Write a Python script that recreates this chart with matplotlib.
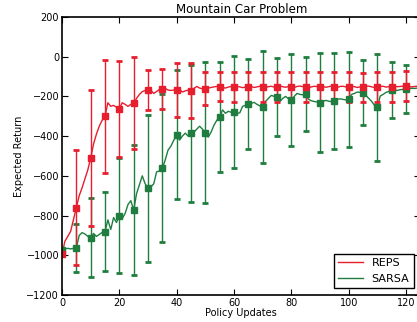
#!/usr/bin/env python3
import numpy as np
from matplotlib import pyplot as plt

# Globals
red = '#e61e2d'
green = '#1f7e3f'

# Policy updates, one value per update (0 .. 124)
updates = list(range(125))

reps_line = [
    -995, -930, -905, -880, -820, -760, -700, -660, -615, -570,   # 0-9
    -510, -440, -390, -350, -320, -300, -232, -250, -245, -255,   # 10-19
    -263, -232, -240, -250, -240, -235, -210, -190, -176, -170,   # 20-29
    -168, -170, -185, -175, -165, -163, -160, -168, -170, -168,   # 30-39
    -168, -165, -178, -172, -168, -171, -160, -150, -158, -162,   # 40-49
    -161, -158, -155, -152, -150, -151, -155, -158, -153, -150,   # 50-59
    -153, -150, -152, -156, -153, -152, -150, -155, -152, -149,   # 60-69
    -152, -155, -151, -149, -153, -152, -148, -151, -154, -150,   # 70-79
    -152, -155, -150, -148, -151, -152, -156, -152, -149, -151,   # 80-89
    -152, -150, -154, -151, -148, -152, -155, -150, -149, -152,   # 90-99
    -152, -149, -151, -155, -152, -154, -150, -148, -152, -155,   # 100-109
    -152, -150, -149, -153, -151, -152, -149, -151, -150, -148,   # 110-119
    -148, -150, -152, -150, -149,                                 # 120-124
]

sarsa_line = [
    -975, -968, -965, -968, -965, -962, -900, -886, -893, -905,   # 0-9
    -911, -890, -905, -895, -885, -881, -822, -870, -810, -835,   # 10-19
    -800, -815, -790, -745, -725, -772, -690, -645, -600, -640,   # 20-29
    -663, -655, -640, -580, -575, -562, -520, -470, -450, -420,   # 30-39
    -394, -420, -400, -385, -400, -386, -380, -365, -350, -365,   # 40-49
    -382, -405, -380, -345, -320, -305, -268, -285, -275, -280,   # 50-59
    -280, -285, -283, -250, -245, -240, -235, -230, -240, -248,   # 60-69
    -252, -225, -210, -195, -200, -203, -226, -210, -200, -212,   # 70-79
    -220, -200, -185, -190, -192, -188, -215, -222, -226, -228,   # 80-89
    -232, -225, -220, -224, -226, -223, -215, -212, -215, -218,   # 90-99
    -215, -190, -185, -178, -180, -181, -195, -210, -225, -245,   # 100-109
    -255, -198, -190, -180, -175, -168, -168, -170, -166, -165,   # 110-119
    -164, -162, -159, -160, -158,                                 # 120-124
]

# Error bars every 5 updates (0 .. 120)
bar_updates = list(range(0, 121, 5))
reps_err = [0, 288, 343, 285, 243, 231, 102, 99, 137, 138, 84, 72, 74,
            74, 74, 74, 74, 74, 74, 74, 74, 74, 74, 74, 74]
sarsa_err = [0, 121, 200, 200, 290, 327, 370, 372, 325, 344, 354, 276, 282,
             227, 282, 195, 232, 185, 250, 240, 240, 163, 269, 140, 121]


def main():
    plt.close('all')
    fig = plt.figure(figsize=(4.17, 3.22), dpi=100)
    ax = fig.add_axes([0.1487, 0.0839, 0.8594, 0.8634])

    # markers sit on the line every 5 updates
    reps_mean = [reps_line[u] for u in bar_updates]
    sarsa_mean = [sarsa_line[u] for u in bar_updates]

    ax.plot(updates, sarsa_line, color=green, lw=1.0, label='SARSA')
    ax.errorbar(bar_updates, sarsa_mean, yerr=sarsa_err, fmt='s', color=green,
                ms=5, elinewidth=1.0, capsize=2, capthick=2)
    ax.plot(updates, reps_line, color=red, lw=1.0, label='REPS')
    ax.errorbar(bar_updates, reps_mean, yerr=reps_err, fmt='s', color=red,
                ms=5, elinewidth=1.0, capsize=2, capthick=2)

    ax.set_xlim(0, 125)
    ax.set_ylim(-1200, 200)
    ax.set_xticks(range(0, 121, 20))
    ax.set_yticks(range(-1200, 201, 200))
    ax.tick_params(direction='in', length=4, labelsize=7, top=True, right=True,
                   pad=2)
    for sp in ax.spines.values():
        sp.set_linewidth(1.2)

    ax.set_title('Mountain Car Problem', fontsize=8.5, pad=3)
    ax.set_xlabel('Policy Updates', fontsize=7, labelpad=0)
    ax.set_ylabel('Expected Return', fontsize=7, labelpad=2)

    handles, labels = ax.get_legend_handles_labels()
    leg = ax.legend(handles[::-1], labels[::-1], loc='lower right', fontsize=8,
                    fancybox=False, framealpha=1, edgecolor='black',
                    handlelength=2.2, borderaxespad=0.6)
    leg.get_frame().set_linewidth(1.0)

    fig.savefig('out.png', dpi=100)


# This is executed when run from the command line
if __name__ == "__main__":
    main()
